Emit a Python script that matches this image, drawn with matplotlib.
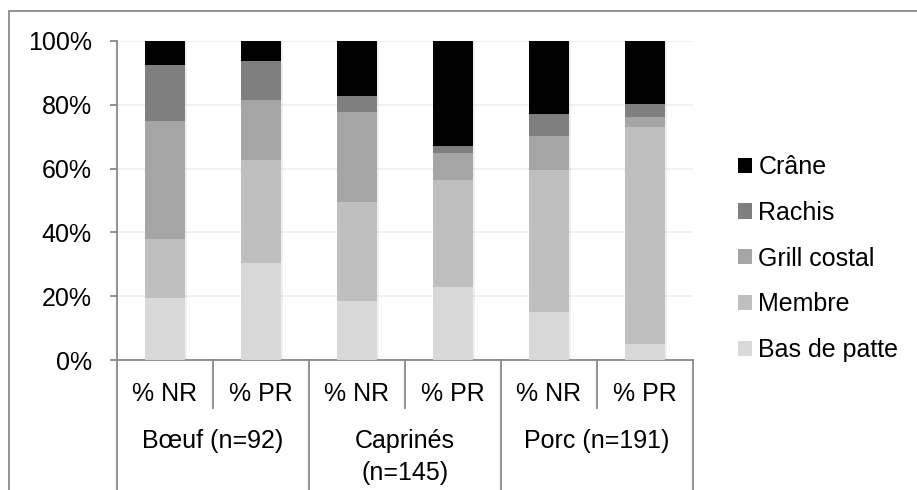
import numpy as np
import matplotlib.pyplot as plt
from matplotlib.patches import Patch, Rectangle
from matplotlib.transforms import blended_transform_factory

# data (percent of remains per anatomical region)
sub_labels = ['% NR', '% PR', '% NR', '% PR', '% NR', '% PR']
group_labels = ['Bœuf (n=92)', 'Caprinés\n(n=145)', 'Porc (n=191)']
parts = ['Bas de patte', 'Membre', 'Grill costal', 'Rachis', 'Crâne']
bas_de_patte = [19.5, 30.3, 18.6, 23.0, 15.0, 4.9]
membre = [18.4, 32.4, 31.0, 33.3, 44.7, 68.2]
grill_costal = [37.1, 18.9, 28.2, 8.7, 10.5, 3.0]
rachis = [17.4, 12.1, 4.9, 2.0, 6.8, 4.1]
crane = [7.6, 6.3, 17.3, 33.0, 23.0, 19.8]
colours = ['#d9d9d9', '#bfbfbf', '#a5a5a5', '#7f7f7f', '#000000']

plt.rcParams['font.family'] = ['Liberation Sans', 'DejaVu Sans']
plt.rcParams['font.size'] = 18

W, H = 917, 490
fig = plt.figure(figsize=(W / 100, H / 100), dpi=100)
ax = fig.add_axes([117 / W, 1 - 360 / H, (693 - 117) / W, (360 - 41) / H])

axis_grey = '#898989'
series = [bas_de_patte, membre, grill_costal, rachis, crane]
x = np.arange(len(sub_labels))
bottom = np.zeros(len(x))
for vals, col, name in zip(series, colours, parts):
    vals = np.array(vals)
    # soft shadow like the office chart
    ax.bar(x + 0.01, vals, 0.43, bottom=bottom - 0.4, color='#000000', alpha=0.06, zorder=2)
    ax.bar(x, vals, 0.41, bottom=bottom, color=col, zorder=3, label=name)
    bottom += vals

ax.set_xlim(-0.5, len(x) - 0.5)
ax.set_ylim(0, 100)
ax.set_yticks(np.arange(0, 101, 20))
ax.set_yticklabels([f'{v}%' for v in range(0, 101, 20)])
ax.set_xticks([])
ax.grid(axis='y', color='#f0f0f0', linewidth=1.3, zorder=0)
ax.set_axisbelow(True)
for s in ['top', 'right']:
    ax.spines[s].set_visible(False)
for s in ['left', 'bottom']:
    ax.spines[s].set_color(axis_grey)
    ax.spines[s].set_linewidth(1.3)
ax.tick_params(axis='y', length=5, width=1.3, color=axis_grey, pad=13)

# multi-level category axis drawn below the plot
tr = blended_transform_factory(ax.transData, fig.transFigure)
def fy(px):
    return 1 - px / H

for i in range(len(x) + 1):
    xpos = i - 0.5
    end = 408 if i % 2 == 1 else 490
    ax.plot([xpos, xpos], [fy(360), fy(end)], color=axis_grey, lw=1.3,
            transform=tr, clip_on=False)
for i, lab in enumerate(sub_labels):
    ax.text(i, fy(401), lab, ha='center', va='baseline', transform=tr)
for g, lab in enumerate(group_labels):
    lines = lab.split('\n')
    for k, line in enumerate(lines):
        ax.text(2 * g + 0.5, fy(448 + 32 * k), line, ha='center', va='baseline', transform=tr)

handles = [Patch(facecolor=c, edgecolor='none') for c in colours][::-1]
fig.legend(handles, parts[::-1], loc='upper left', bbox_to_anchor=(728 / W, 1 - 145 / H),
           frameon=False, handlelength=0.56, handleheight=0.56, handletextpad=0.25,
           labelspacing=0.87, borderaxespad=0)

# outer chart frame (cropped on the right and bottom)
fig.add_artist(Rectangle((8.5 / W, -0.2), 1.2, 1.2 - 11.5 / H, transform=fig.transFigure,
                         fill=False, edgecolor=axis_grey, linewidth=1.3))

fig.savefig('out.png', dpi=100)
